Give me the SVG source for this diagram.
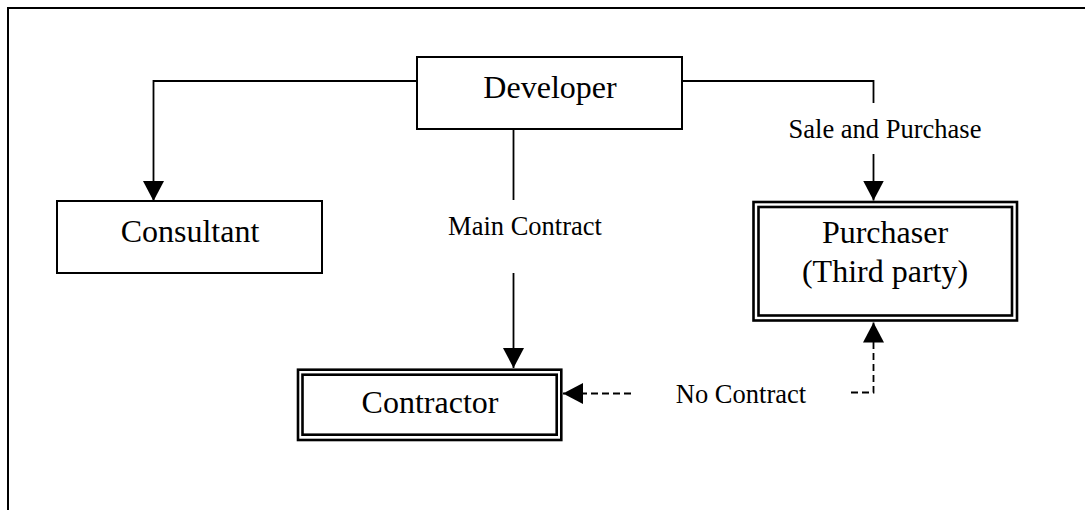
<svg xmlns="http://www.w3.org/2000/svg" width="1085" height="510" viewBox="0 0 1085 510">
  <style>
    .box { fill: #fff; stroke: #000; stroke-width: 2; }
    .dbl { fill: none; stroke: #000; stroke-width: 2.6; }
    .label { font-family: "Liberation Serif", "Times New Roman", serif; fill: #000; text-anchor: middle; }
    .node { font-size: 32px; }
    .edge-label { font-size: 26.5px; }
    .link { fill: none; stroke: #000; stroke-width: 1.8; }
    .dashed { stroke-dasharray: 7 4; }
  </style>
  <defs>
    <marker id="arrow" viewBox="0 0 20 21" refX="20" refY="10.5" markerWidth="20" markerHeight="21" markerUnits="userSpaceOnUse" orient="auto">
      <path d="M0,0 L20,10.5 L0,21 Z" fill="#000"/>
    </marker>
  </defs>

  <rect width="1085" height="510" fill="#fff"/>
  <!-- outer frame, open towards the right and bottom -->
  <rect x="8" y="8" width="1100" height="530" fill="none" stroke="#000" stroke-width="2"/>

  <g id="connectors">
    <!-- Developer to Consultant -->
    <path class="link" d="M417,81 H153.5 V201" marker-end="url(#arrow)"/>
    <!-- Developer to Contractor (main contract) -->
    <path class="link" d="M513.5,129 V200"/>
    <path class="link" d="M513.5,273 V368" marker-end="url(#arrow)"/>
    <!-- Developer to Purchaser (sale and purchase) -->
    <path class="link" d="M682,81 H873.5 V103"/>
    <path class="link" d="M873.5,154 V200.5" marker-end="url(#arrow)"/>
    <!-- no contract between Purchaser and Contractor -->
    <path class="link dashed" d="M631,393.5 H563" marker-end="url(#arrow)"/>
    <path class="link dashed" d="M851,392.5 H873.5 V322.5" marker-end="url(#arrow)"/>
    <text class="label edge-label" x="525" y="235">Main Contract</text>
    <text class="label edge-label" x="885" y="138">Sale and Purchase</text>
    <text class="label edge-label" x="741" y="403">No Contract</text>
  </g>

  <g id="developer">
    <rect class="box" x="417" y="57" width="265" height="72"/>
    <text class="label node" x="550" y="98">Developer</text>
  </g>

  <g id="consultant">
    <rect class="box" x="57" y="201" width="265" height="72"/>
    <text class="label node" x="190" y="242">Consultant</text>
  </g>

  <g id="contractor">
    <rect class="dbl" x="298" y="369.7" width="263.3" height="70.3"/>
    <rect class="dbl" x="302.5" y="374.7" width="254.2" height="60"/>
    <text class="label node" x="430" y="413">Contractor</text>
  </g>

  <g id="purchaser">
    <rect class="dbl" x="753.5" y="202" width="263.5" height="118.5"/>
    <rect class="dbl" x="758.5" y="207" width="253.5" height="108.5"/>
    <text class="label node" x="885" y="243">Purchaser</text>
    <text class="label node" x="885" y="282">(Third party)</text>
  </g>
</svg>
